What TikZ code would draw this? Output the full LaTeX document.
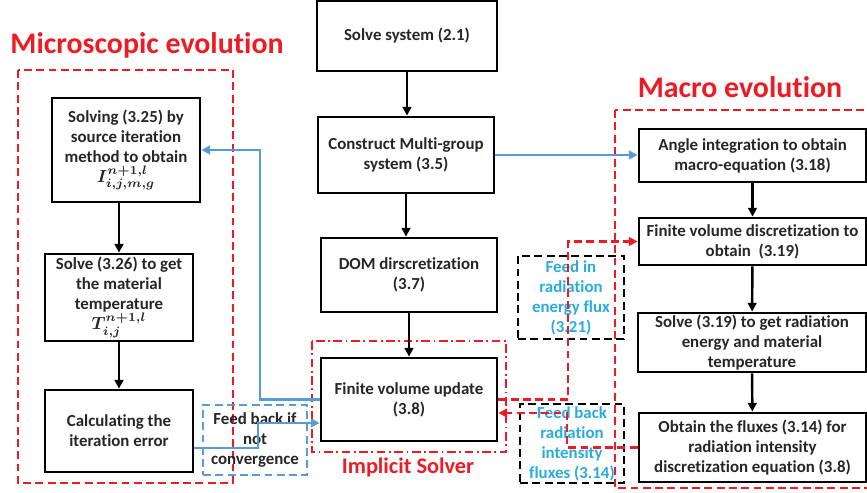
\documentclass[tikz,border=0pt]{standalone}
\usepackage{bm}
\usepackage{fontspec}
\setmainfont{Carlito}[Ligatures=NoCommon]
\usetikzlibrary{arrows.meta}
\definecolor{evored}{RGB}{237,28,36}
\definecolor{linkblue}{RGB}{91,155,213}
\definecolor{feedblue}{RGB}{41,171,226}
\begin{document}
\begin{tikzpicture}[x=0.02cm, y=-0.02cm, >={Triangle[length=5pt,width=5pt]},
    font=\fontsize{9.6}{11.4}\selectfont\bfseries,
    stepbox/.style={draw, line width=1.6pt, align=center, inner sep=1pt, text=black!85},
    feedbox/.style={draw, line width=1.4pt, dash pattern=on 4.5pt off 2.5pt, align=center, inner sep=1pt},
    heading/.style={text=evored, font=\fontsize{17}{20}\selectfont\bfseries},
    flow/.style={->, line width=1.4pt},
    bluelink/.style={->, linkblue, line width=1.4pt},
    redlink/.style={->, evored, line width=1.4pt, dash pattern=on 4.5pt off 2.5pt},
    frame/.style={evored, line width=1.4pt, dash pattern=on 4.5pt off 2.5pt}]
    \useasboundingbox (0,0) rectangle (867,493);
    % frames
    \draw[frame] (18,70) rectangle (233,483);
    \draw[frame] (615,110) rectangle (872,488);
    \draw[evored, line width=1.4pt, dash pattern=on 5pt off 2pt on 1pt off 2pt] (312,341) rectangle (506,452);
    \node[heading] (micro) at (147,45) {Microscopic evolution};
    \node[heading] (macro) at (740,87) {Macro evolution};
    \node[text=evored, font=\fontsize{12.7}{15}\selectfont\bfseries] (impl) at (408,467) {Implicit Solver};
    % microscopic column
    \node[stepbox, minimum width=2.96cm, minimum height=2.08cm] (s1) at (126,150) {Solving (3.25) by\\source iteration\\method to obtain\\$\bm{I^{n+1,l}_{i,j,m,g}}$};
    \node[stepbox, minimum width=2.96cm, minimum height=1.74cm] (s2) at (119,297.5) {Solve (3.26) to get\\the material\\temperature\\$\bm{T^{n+1,l}_{i,j}}$};
    \node[stepbox, minimum width=2.96cm, minimum height=1.64cm] (s3) at (119,431) {Calculating the\\iteration error};
    % middle column
    \node[stepbox, minimum width=3.6cm, minimum height=1.4cm] (c1) at (407,36) {Solve system (2.1)};
    \node[stepbox, minimum width=3.52cm, minimum height=1.52cm] (c2) at (406,155) {Construct Multi-group\\system (3.5)};
    \node[stepbox, minimum width=3.52cm, minimum height=1.48cm] (c3) at (409,275) {DOM dirscretization\\(3.7)};
    \node[stepbox, minimum width=3.52cm, minimum height=1.66cm] (c4) at (409,399.5) {Finite volume update\\(3.8)};
    % macro column
    \node[stepbox, minimum width=4.54cm, minimum height=1.06cm] (m1) at (752.5,155.5) {Angle integration to obtain\\macro-equation (3.18)};
    \node[stepbox, minimum width=4.54cm, minimum height=0.94cm] (m2) at (752.5,241.5) {Finite volume discretization to\\obtain~ (3.19)};
    \node[stepbox, minimum width=4.56cm, minimum height=1.18cm] (m3) at (752,342.5) {Solve (3.19) to get radiation\\energy and material\\temperature};
    \node[stepbox, minimum width=4.54cm, minimum height=1.38cm] (m4) at (752.5,447.5) {Obtain the fluxes (3.14) for\\radiation intensity\\discretization equation (3.8)};
    % feed boxes
    \node[feedbox, linkblue, text=black!85, minimum width=2.08cm, minimum height=1.4cm] (fb) at (255,440) {Feed back if\\not\\convergence};
    \node[feedbox, text=feedblue, minimum width=2.12cm, minimum height=1.66cm] (fi) at (571,297.5) {Feed in\\radiation\\energy flux\\(3.21)};
    \node[feedbox, text=feedblue, minimum width=2.08cm, minimum height=1.58cm] (fr) at (572,443.5) {Feed back\\radiation\\intensity\\fluxes (3.14)};
    % arrows
    \draw[flow] (s2 |- s1.south) -- (s2.north);
    \draw[flow] (s2.south) -- (s3.north);
    \draw[flow] (c1.south) -- (c1.south |- c2.north);
    \draw[flow] (c2.south) -- (c2.south |- c3.north);
    \draw[flow] (c3.south) -- (c4.north);
    \draw[flow] (m1) -- (m2);
    \draw[flow] (m2) -- (m3);
    \draw[flow] (m3) -- (m4);
    \coordinate (up) at (260,150);
    \coordinate (low) at (258,423);
    \coordinate (rx) at (568,0);
    \coordinate (rb) at (567,413);
    \coordinate (sx) at (0,448);
    \draw[bluelink] (c2.east) -- (m1.west |- c2.east);
    \draw[bluelink] (c4.west) -| (up) -- (s1.east);
    \draw[bluelink] (s3.east |- sx) -| (low) -- (c4.west |- low);
    \draw[redlink] (c4.east) -| (rx |- m2.west) -- (m2.west);
    \draw[redlink] (m4.west) -| (rb) -- (c4.east |- rb);
\end{tikzpicture}
\end{document}
